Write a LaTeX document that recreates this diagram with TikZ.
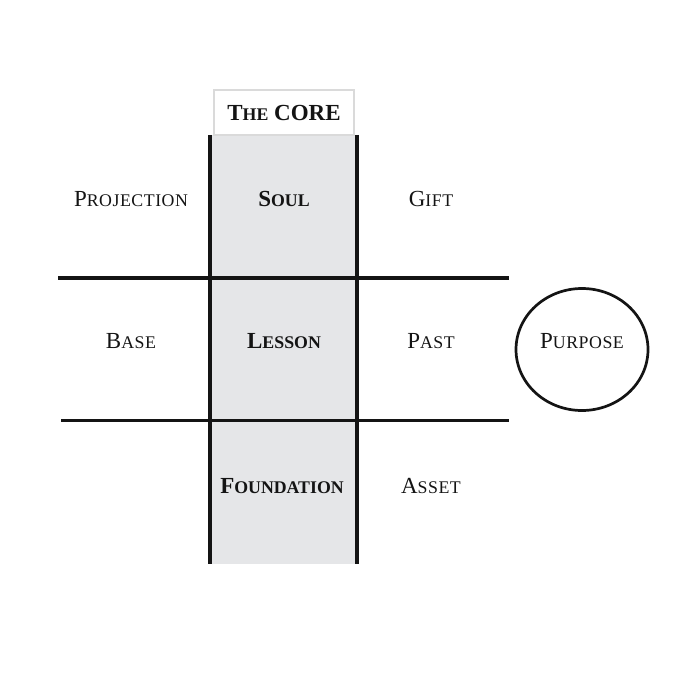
\documentclass[tikz,border=0pt]{standalone}
\usepackage{fontspec}
\setmainfont{Liberation Serif}
\definecolor{coregray}{HTML}{E5E6E8}
\definecolor{boxedge}{HTML}{DADADA}
\definecolor{ink}{HTML}{141414}
\newcommand\fsc[2]{{\fontsize{23}{23}\selectfont #1}{\fontsize{17.8}{17.8}\selectfont\addfontfeature{LetterSpace=3}#2}}
\newcommand\fscb[2]{{\fontsize{23}{23}\selectfont #1}{\fontsize{17.8}{17.8}\selectfont #2}}
\tikzset{
  lbl/.style={text=ink, inner sep=0pt, anchor=center},
  blbl/.style={lbl, font=\bfseries},
  thickrule/.style={line width=4pt, draw=ink},
  thinrule/.style={line width=3pt, draw=ink},
}
\begin{document}
\begin{tikzpicture}[x=1pt,y=-1pt]
\useasboundingbox (0,0) rectangle (700,700);
% gray core column
\fill[coregray] (210,135) rectangle (357,564);
% title box
\node[draw=boxedge, line width=2pt, fill=white, minimum width=140pt, minimum height=45pt, inner sep=0pt] (title) at (284,112.5) {};
\node[blbl] (titletxt) at (284,113) {\bfseries\fscb{T}{HE}\fontsize{23}{23}\selectfont\ CORE};
% vertical lines
\coordinate (vl1) at (210,135); \coordinate (vl2) at (210,564);
\coordinate (vr1) at (357,135); \coordinate (vr2) at (357,564);
\draw[thickrule] (vl1) -- (vl2);
\draw[thickrule] (vr1) -- (vr2);
% horizontal lines
\coordinate (h1a) at (58,278); \coordinate (h1b) at (509,278);
\coordinate (h2a) at (61,420.5); \coordinate (h2b) at (509,420.5);
\draw[thickrule] (h1a) -- (h1b);
\draw[thinrule] (h2a) -- (h2b);
% purpose ellipse
\draw[line width=2.7pt, draw=ink] (582,349.5) ellipse [x radius=66, y radius=61];
% labels
\node[lbl] (proj) at (131,199) {\fsc{P}{ROJECTION}};
\node[blbl] (soul) at (284,199) {\bfseries\fscb{S}{OUL}};
\node[lbl] (gift) at (431,199) {\fsc{G}{IFT}};
\node[lbl] (base) at (131,341) {\fsc{B}{ASE}};
\node[blbl] (lesson) at (284,341) {\bfseries\fscb{L}{ESSON}};
\node[lbl] (past) at (431,341) {\fsc{P}{AST}};
\node[lbl] (purpose) at (582,341) {\fsc{P}{URPOSE}};
\node[blbl] (found) at (282,486) {\bfseries\fscb{F}{OUNDATION}};
\node[lbl] (asset) at (431,486) {\fsc{A}{SSET}};
\end{tikzpicture}
\end{document}
